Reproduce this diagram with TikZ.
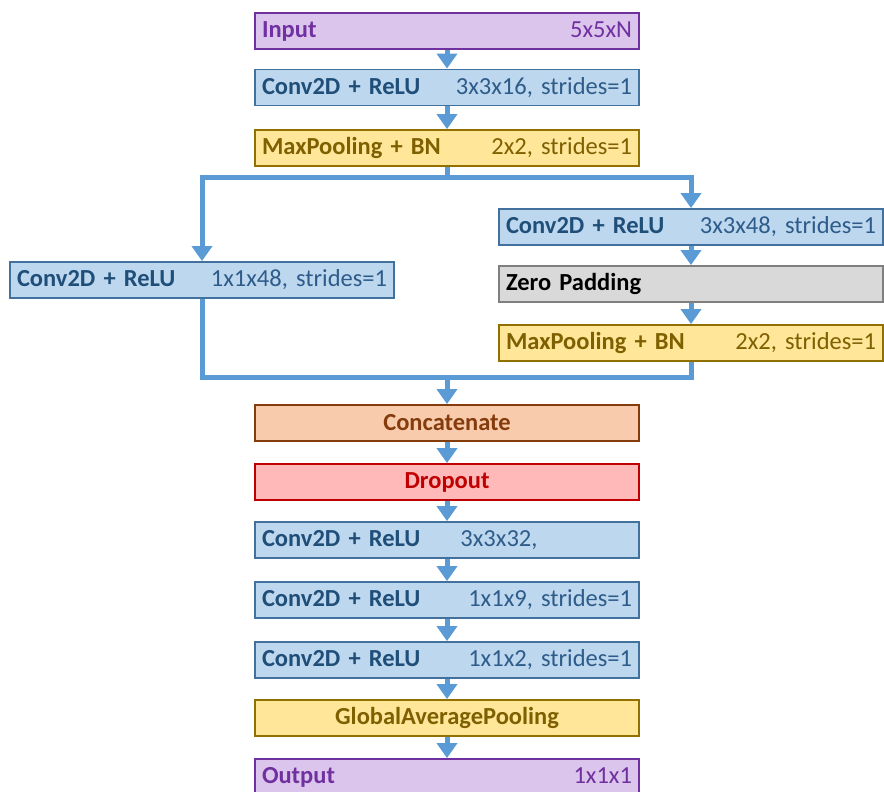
\documentclass[tikz,border=0pt]{standalone}
\usepackage{xcolor}
\usepackage{fontspec}
\setmainfont{Carlito}
\usepackage{tikz}
\usetikzlibrary{positioning, arrows.meta}

\definecolor{iofill}{HTML}{DCC5EC}
\definecolor{ioline}{HTML}{7030A0}
\definecolor{convfill}{HTML}{BDD7EE}
\definecolor{convline}{HTML}{41719C}
\definecolor{convtext}{HTML}{1F4E79}
\definecolor{convparam}{HTML}{2E5C8A}
\definecolor{poolfill}{HTML}{FFE699}
\definecolor{poolline}{HTML}{8F7000}
\definecolor{pooltext}{HTML}{7F6000}
\definecolor{padfill}{HTML}{D9D9D9}
\definecolor{padline}{HTML}{7F7F7F}
\definecolor{catfill}{HTML}{F8CBAD}
\definecolor{catline}{HTML}{843C0C}
\definecolor{dropfill}{HTML}{FFB9B9}
\definecolor{dropline}{HTML}{C00000}
\definecolor{flowblue}{HTML}{5B9BD5}

\newcommand{\convname}{\textcolor{convtext}{\textbf{Conv2D + ReLU}}}

\begin{document}
\begin{tikzpicture}[x=1pt, y=1pt, node distance=59pt, on grid,
    box/.style={rectangle, draw, line width=1.8pt, minimum height=36pt,
        text width=370pt, inner xsep=7pt, inner ysep=0pt, align=left,
        font=\fontsize{24.5}{28}\selectfont},
    iobox/.style={box, fill=iofill, draw=ioline, text=ioline},
    convbox/.style={box, fill=convfill, draw=convline, text=convparam},
    poolbox/.style={box, fill=poolfill, draw=poolline, text=pooltext},
    padbox/.style={box, fill=padfill, draw=padline, text=black},
    catbox/.style={box, fill=catfill, draw=catline, text=catline, align=center},
    dropbox/.style={box, fill=dropfill, draw=dropline, text=dropline, align=center},
    flow/.style={draw=flowblue, line width=5pt},
    arrow/.style={flow, -{Triangle[width=20pt, length=15pt]}}]

    \useasboundingbox (0,0) rectangle (884,792);

    \node[iobox] (input) at (447,761) {\textbf{Input}\hfill 5x5xN};
    \node[convbox] (conv1) [below=56.5pt of input] {\convname\hfill 3x3x16, strides=1};
    \node[poolbox] (pool1) [below=60.5pt of conv1] {\textbf{MaxPooling + BN}\hfill 2x2, strides=1};

    \node[convbox] (lconv) [below left=132pt and 245pt of pool1] {\convname\hfill 1x1x48, strides=1};
    \node[convbox] (rconv) [below right=79pt and 244pt of pool1] {\convname\hfill 3x3x48, strides=1};
    \node[padbox] (zpad) [below=57pt of rconv] {\textbf{Zero Padding}};
    \node[poolbox] (rpool) [below=of zpad] {\textbf{MaxPooling + BN}\hfill 2x2, strides=1};

    \node[catbox] (concat) [below=275pt of pool1] {\textbf{Concatenate}};
    \node[dropbox] (drop) [below=of concat] {\textbf{Dropout}};
    \node[convbox] (conv2) [below=58pt of drop] {\convname\hspace{40pt}3x3x32,};
    \node[convbox] (conv3) [below=60pt of conv2] {\convname\hfill 1x1x9, strides=1};
    \node[convbox] (conv4) [below=60pt of conv3] {\convname\hfill 1x1x2, strides=1};
    \node[poolbox, align=center] (gap) [below=58pt of conv4] {\textbf{GlobalAveragePooling}};
    \node[iobox] (output) [below=of gap] {\textbf{Output}\hfill 1x1x1};

    \coordinate (split) at (447,614);
    \coordinate (merge) at (447,414);

    \draw[arrow] (input) -- (conv1);
    \draw[arrow] (conv1) -- (pool1);
    \draw[flow] (pool1) -- (split);
    \draw[arrow] (split) -| (lconv);
    \draw[arrow] (split) -| (rconv);
    \draw[arrow] (rconv) -- (zpad);
    \draw[arrow] (zpad) -- (rpool);
    \draw[flow] (lconv) |- (merge) -| (rpool);
    \draw[arrow] (merge) -- (concat);
    \draw[arrow] (concat) -- (drop);
    \draw[arrow] (drop) -- (conv2);
    \draw[arrow] (conv2) -- (conv3);
    \draw[arrow] (conv3) -- (conv4);
    \draw[arrow] (conv4) -- (gap);
    \draw[arrow] (gap) -- (output);

\end{tikzpicture}
\end{document}
